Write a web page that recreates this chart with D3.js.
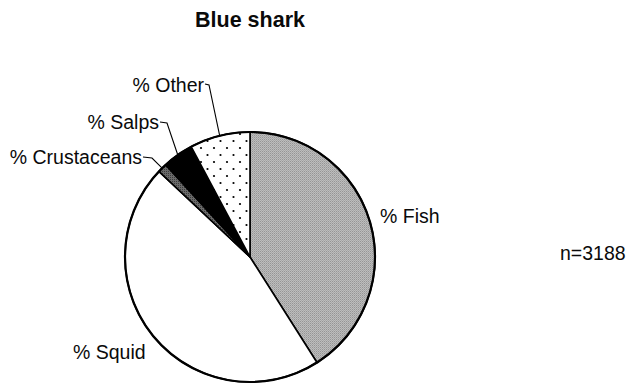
<!DOCTYPE html>
<html>
<head>
<meta charset="utf-8">
<script src="https://cdn.jsdelivr.net/npm/d3@7"></script>
<style>
  body { margin: 0; background: #fff; }
  text { font-family: Arial, "Liberation Sans", sans-serif; fill: #0a0a0a; }
</style>
</head>
<body>
<svg id="chart"></svg>
<script>
/* data */
const categories = ["% Fish", "% Squid", "% Crustaceans", "% Salps", "% Other"];
const values = [41.0, 46.0, 1.2, 4.0, 7.8];
const title = "Blue shark";
const note = "n=3188";

/* chart */
(function() {
  let width = 630;
  let height = 388;
  let radius = 125;
  let cx = 250, cy = 257;

  let svg = d3.select("#chart")
    .attr("width", width)
    .attr("height", height);

  let defs = svg.append("defs");

  // fine gray stipple for fish
  let pf = defs.append("pattern")
    .attr("id", "stipple")
    .attr("width", 2).attr("height", 2)
    .attr("patternUnits", "userSpaceOnUse");
  pf.append("rect").attr("width", 2).attr("height", 2).attr("fill", "#bdbdbd");
  pf.append("rect").attr("width", 1).attr("height", 1).attr("fill", "#959595");
  pf.append("rect").attr("x", 1).attr("y", 1).attr("width", 1).attr("height", 1).attr("fill", "#a8a8a8");

  // dark hatch for crustaceans
  let pc = defs.append("pattern")
    .attr("id", "hatch")
    .attr("width", 2).attr("height", 2)
    .attr("patternUnits", "userSpaceOnUse");
  pc.append("rect").attr("width", 2).attr("height", 2).attr("fill", "#6a6a6a");
  pc.append("rect").attr("width", 1).attr("height", 1).attr("fill", "#3a3a3a");

  // staggered dots for other
  let pd = defs.append("pattern")
    .attr("id", "dots")
    .attr("width", 13).attr("height", 14)
    .attr("patternUnits", "userSpaceOnUse");
  pd.append("rect").attr("width", 13).attr("height", 14).attr("fill", "#fff");
  pd.append("circle").attr("cx", 3).attr("cy", 3).attr("r", 1.1).attr("fill", "#000");
  pd.append("circle").attr("cx", 9.5).attr("cy", 10).attr("r", 1.1).attr("fill", "#000");

  let fills = ["url(#stipple)", "#fff", "url(#hatch)", "#000", "url(#dots)"];

  let pie = d3.pie().sort(null).value(d => d);
  let arc = d3.arc().innerRadius(0).outerRadius(radius);
  let arcs = pie(values);

  let g = svg.append("g")
    .attr("transform", "translate(" + cx + "," + cy + ")");

  g.selectAll(".slice")
    .data(arcs)
    .enter().append("path")
    .attr("class", "slice")
    .attr("d", arc)
    .attr("fill", (d, i) => fills[i])
    .attr("stroke", "#000")
    .attr("stroke-width", 1.6)
    .attr("stroke-linejoin", "round");

  // outer rim a bit heavier
  g.append("circle")
    .attr("r", radius)
    .attr("fill", "none")
    .attr("stroke", "#000")
    .attr("stroke-width", 2.2);

  svg.append("text")
    .attr("x", 250).attr("y", 27)
    .attr("text-anchor", "middle")
    .style("font-weight", "bold")
    .style("font-size", "21.5px")
    .text(title);

  // label layout; leader lines only for the small slices
  let labelPos = [
    { x: 380, y: 223, anchor: "start" },
    { x: 73, y: 359, anchor: "start" },
    { x: 142, y: 164, anchor: "end", elbow: [152, 158] },
    { x: 159, y: 129, anchor: "end", elbow: [167, 123] },
    { x: 204, y: 92, anchor: "end", elbow: [209, 85] }
  ];

  arcs.forEach((d, i) => {
    let lp = labelPos[i];
    svg.append("text")
      .attr("x", lp.x).attr("y", lp.y)
      .attr("text-anchor", lp.anchor)
      .style("font-size", "19.5px")
      .text(categories[i]);
    if (lp.elbow) {
      let mid = (d.startAngle + d.endAngle) / 2;
      let ex = cx + Math.sin(mid) * radius;
      let ey = cy - Math.cos(mid) * radius;
      svg.append("path")
        .attr("d", d3.line()([[lp.x + 1, lp.elbow[1] - 1], lp.elbow, [ex, ey]]))
        .attr("fill", "none")
        .attr("stroke", "#000")
        .attr("stroke-width", 1.1);
    }
  });

  svg.append("text")
    .attr("x", 560).attr("y", 260)
    .style("font-size", "19.5px")
    .text(note);
})();
</script>
</body>
</html>
